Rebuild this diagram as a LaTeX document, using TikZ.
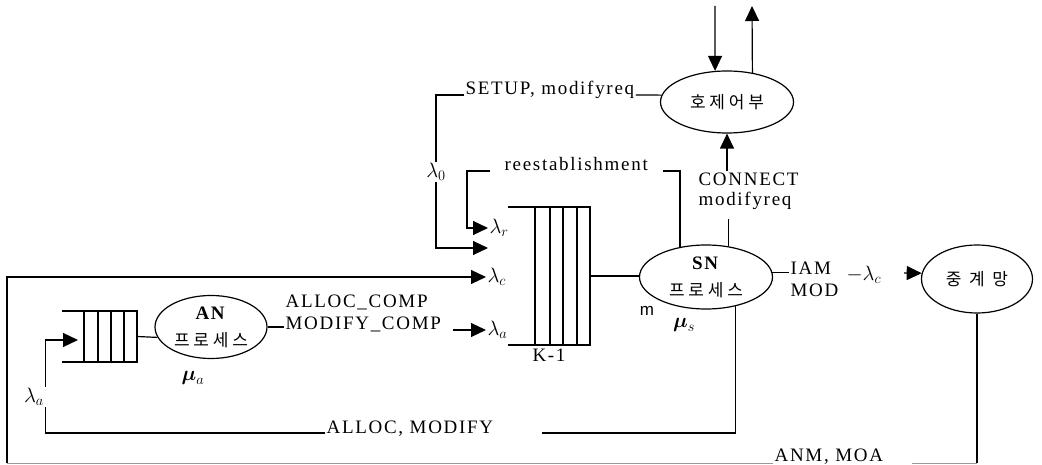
\documentclass[tikz,border=0pt]{standalone}
\usepackage{amsmath}
\usepackage{fontspec}
\setmainfont{Liberation Serif}[LetterSpace=9]
\newfontfamily\kr{Noto Sans CJK KR}
\newfontfamily\sfm{Liberation Sans}
\usetikzlibrary{arrows.meta,positioning,shapes.geometric}
\newcommand{\ko}{\kr\fontsize{17}{20}\selectfont}

\begin{document}
\begin{tikzpicture}[
  x=1pt, y=-1pt,
  font=\fontsize{19}{22}\selectfont,
  line width=1.2pt,
  proc/.style={draw, ellipse, inner sep=0pt, align=center, font=\fontsize{19}{27}\selectfont},
  lbl/.style={inner sep=1pt, align=left},
  lam/.style={inner sep=1pt, font=\fontsize{22}{24}\selectfont},
  queue/.style={inner sep=0pt, outer sep=0pt},
  arrow/.style={-{Triangle[length=15pt, width=14pt]}},
  faint/.style={draw=black!40, line width=0.9pt}
]
\useasboundingbox (0,0) rectangle (1042,465);

% processes
\node[proc, minimum width=133pt, minimum height=62pt] (ctrl) at (727,102) {\ko 호 제 어 부};
\node[proc, minimum width=133pt, minimum height=64pt] (sn) at (706,277) {\textbf{SN}\\{\ko 프 로 세 스}};
\node[proc, minimum width=112pt, minimum height=63pt] (an) at (211,327) {\textbf{AN}\\{\ko 프 로 세 스}};
\node[proc, minimum width=111pt, minimum height=68pt] (relay) at (977,279) {\ko 중\hspace{0.45em}계\hspace{0.45em}망};

% queues
\node[queue, minimum width=82pt, minimum height=138pt] (qs) at (549,276) {};
\draw (qs.north west) -- (qs.north east) -- (qs.south east) -- (qs.south west);
\foreach \d in {27,42,55,69}
  \draw ([xshift=\d pt]qs.north west) -- ([xshift=\d pt]qs.south west);
\node[queue, minimum width=75pt, minimum height=51pt] (qa) at (99.5,336.5) {};
\draw (qa.north west) -- (qa.north east) -- (qa.south east) -- (qa.south west);
\foreach \d in {22,36,49,62}
  \draw ([xshift=\d pt]qa.north west) -- ([xshift=\d pt]qa.south west);
\node[below=0pt of qs] (k1) {K-1};

% texts
\node[lbl, anchor=base west] (setup) at (464,95) {SETUP, modifyreq};
\node[lbl, anchor=base west] (reest) at (503,171) {reestablishment};
\node[lbl, anchor=north west, font=\fontsize{19}{20}\selectfont] (conn) at (697,171) {CONNECT\\modifyreq};
\node[lbl, anchor=west, font=\fontsize{19}{22}\selectfont] (iam) at (789,279) {IAM\\MOD};
\node[lbl, anchor=west] (comp) at (284,313) {ALLOC\_COMP\\MODIFY\_COMP};
\node[lbl, anchor=base west] (alloc) at (325,433) {ALLOC, MODIFY};
\node[lbl, anchor=base west] (anm) at (773,461) {ANM, MOA};
\node[lbl, font=\sfm\fontsize{17}{18}\selectfont] (mlbl) at (647,311) {m};
\node[lam] (mus) at (684,325) {$\boldsymbol{\mu}_s$};
\node[lam] (mua) at (193,378) {$\boldsymbol{\mu}_a$};

% rates
\coordinate (tipR) at (488,228);
\coordinate (tip0) at (488,248);
\node[lam] (lam0) at (436,172) {$\lambda_0$};
\node[lam, anchor=west] (lamr) at (tipR) {$\lambda_r$};
\node[lam, anchor=west] (lamc) at (486,277) {$\lambda_c$};
\node[lam, anchor=west] (lama) at (486,330) {$\lambda_a$};
\node[lam] (lamA) at (34,397) {$\lambda_a$};
\node[lam, anchor=west] (lamo) at (845,275) {$-\lambda_c$};

% free ends
\coordinate (inTop) at (715,6);
\coordinate (outTop) at (752,6);
\coordinate (aIn) at (453,330);
\coordinate (tipA) at (78,340);
\coordinate (rIn) at (904,273);
\coordinate (botL) at (7,463);
\coordinate (rsL) at ([xshift=-13pt]reest.base west);
\coordinate (rsR) at ([xshift=14pt]reest.base east);
\coordinate (aR) at ([xshift=47pt]alloc.base east);

% call control
\draw[arrow] (inTop) -- (ctrl.111);
\draw[arrow] (ctrl.49) -- (outTop);
\draw (setup.base east) -- (ctrl.174);
\draw (setup.base west) -| (lam0.north);
\draw[arrow] (lam0.south) |- (tip0);
\draw[arrow] (conn.north -| ctrl.south) -- (ctrl.south);
\draw ([yshift=-8pt]conn.south -| sn.54) -- (sn.54);

% SN side
\draw[arrow] (rsL) -| ([xshift=-21pt]lamr.west) -- (lamr.west);
\draw (rsR) -| (sn.131);
\draw (qs.east) -- (qs.east -| sn.west);
\draw (sn.4) -- (sn.4 -| iam.west);
\draw[arrow] (rIn) -- (relay.174);
\draw (sn.-45) |- (aR);

% AN side
\draw[arrow] (aIn) -- (lama.west);
\draw (qa.east) -- (an.191);
\draw (an.east) -- (an.east -| comp.west);
\draw (alloc.base west) -| (lamA.south east);
\draw[arrow] (lamA.north east) |- (tipA);

% return path
\draw (relay.south) -- (relay.south |- botL);
\draw[faint] (relay.south |- botL) -- ([xshift=27pt]anm.base east |- botL);
\draw[faint] (anm.base west |- botL) -- (botL);
\draw[arrow] (botL) |- (lamc.west);
\end{tikzpicture}
\end{document}
